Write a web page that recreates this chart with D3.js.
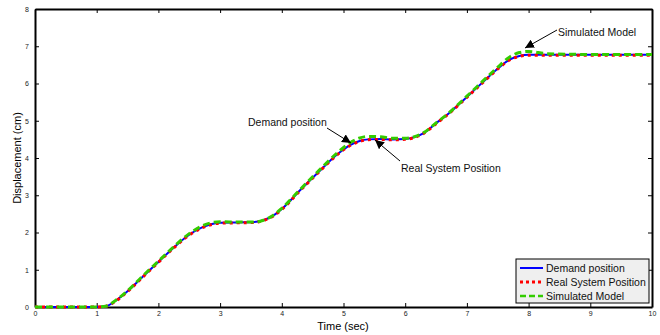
<!DOCTYPE html>
<html><head><meta charset="utf-8">
<script src="https://cdn.jsdelivr.net/npm/d3@7"></script>
<style>body{margin:0;background:#fff;}svg{display:block;font-family:"Liberation Sans",Arial,sans-serif;}</style>
</head><body>
<svg id="c" width="660" height="335"></svg>
<script>
const time =      [0, 1.0, 1.15, 1.3, 1.49, 1.75, 2.0, 2.25, 2.5, 2.7, 2.85, 3.0, 3.3, 3.55, 3.7, 3.85, 4.0, 4.3, 4.6, 4.9, 5.1, 5.25, 5.4, 5.6, 5.8, 6.0, 6.15, 6.3, 6.5, 6.7, 7.0, 7.3, 7.5, 7.7, 7.85, 8.0, 8.3, 9.0, 10];
const demand =    [0, 0, 0.02, 0.16, 0.41, 0.82, 1.21, 1.6, 1.94, 2.13, 2.22, 2.26, 2.27, 2.28, 2.33, 2.44, 2.63, 3.14, 3.63, 4.1, 4.34, 4.45, 4.5, 4.51, 4.5, 4.51, 4.56, 4.67, 4.93, 5.19, 5.64, 6.1, 6.4, 6.65, 6.74, 6.77, 6.77, 6.77, 6.77];
const realPos =   [0, 0, 0.02, 0.15, 0.40, 0.81, 1.20, 1.59, 1.93, 2.12, 2.21, 2.25, 2.26, 2.27, 2.32, 2.43, 2.62, 3.13, 3.62, 4.09, 4.33, 4.44, 4.49, 4.50, 4.49, 4.50, 4.55, 4.66, 4.92, 5.18, 5.63, 6.09, 6.39, 6.64, 6.73, 6.76, 6.76, 6.76, 6.76];
const simulated = [0, 0, 0.02, 0.17, 0.42, 0.84, 1.23, 1.62, 1.97, 2.17, 2.26, 2.29, 2.28, 2.28, 2.33, 2.45, 2.65, 3.16, 3.66, 4.14, 4.40, 4.53, 4.58, 4.57, 4.53, 4.53, 4.57, 4.68, 4.94, 5.20, 5.66, 6.13, 6.44, 6.72, 6.83, 6.86, 6.80, 6.78, 6.78];
const xTicks = [0,1,2,3,4,5,6,7,8,9,10];
const yTicks = [0,1,2,3,4,5,6,7,8];
const seriesNames = ["Demand position", "Real System Position", "Simulated Model"];

const svg = d3.select("#c");
const L=35, R=652, T=9, B=307;
const x = d3.scaleLinear().domain([0,10]).range([L,R]);
const y = d3.scaleLinear().domain([0,8]).range([B,T]);

// axes (ticks inward, box)
const fs = "7px";
const gb = svg.append("g").attr("transform",`translate(0,${B})`)
  .call(d3.axisBottom(x).tickValues(xTicks).tickSizeInner(-4).tickSizeOuter(0).tickPadding(4));
const gt = svg.append("g").attr("transform",`translate(0,${T})`)
  .call(d3.axisTop(x).tickValues(xTicks).tickSizeInner(-4).tickSizeOuter(0).tickFormat(""));
const gl = svg.append("g").attr("transform",`translate(${L},0)`)
  .call(d3.axisLeft(y).tickValues(yTicks).tickSizeInner(-4).tickSizeOuter(0).tickPadding(6));
const gr = svg.append("g").attr("transform",`translate(${R},0)`)
  .call(d3.axisRight(y).tickValues(yTicks).tickSizeInner(-4).tickSizeOuter(0).tickFormat(""));
[gb,gt,gl,gr].forEach(g=>{
  g.select(".domain").attr("stroke","#000").attr("stroke-width",2);
  g.selectAll(".tick line").attr("stroke","#000").attr("stroke-width",1);
  g.selectAll(".tick text").attr("font-size",fs).attr("fill","#222").attr("font-family","Liberation Sans, Arial, sans-serif");
});

const line = vals => d3.line().x((d,i)=>x(time[i])).y(d=>y(d)).curve(d3.curveMonotoneX)(vals);
const plot = svg.append("g");
plot.append("path").attr("d",line(demand)).attr("fill","none").attr("stroke","#0000ff").attr("stroke-width",2);
plot.append("path").attr("d",line(realPos)).attr("fill","none").attr("stroke","#ff0000").attr("stroke-width",3).attr("stroke-dasharray","3,4");
plot.append("path").attr("d",line(simulated)).attr("fill","none").attr("stroke","#33cc00").attr("stroke-width",3).attr("stroke-dasharray","7,4");

// axis labels
svg.append("text").attr("x",343).attr("y",330).attr("text-anchor","middle").attr("font-size","11px").text("Time (sec)");
svg.append("text").attr("transform","translate(21,158) rotate(-90)").attr("text-anchor","middle").attr("font-size","11px").text("Displacement (cm)");

// annotations
const defs = svg.append("defs");
defs.append("marker").attr("id","ah").attr("viewBox","0 0 10 10").attr("refX",10).attr("refY",5)
  .attr("markerWidth",9).attr("markerHeight",9).attr("markerUnits","userSpaceOnUse").attr("orient","auto")
  .append("path").attr("d","M0,0 L10,5 L0,10 z").attr("fill","#000");
const ann = [
  {text:"Demand position", tx:248, ty:125.5, x1:327, y1:128, x2:351, y2:143},
  {text:"Real System Position", tx:401, ty:172, x1:400, y1:161, x2:375, y2:140},
  {text:"Simulated Model", tx:558, ty:36, x1:557, y1:30, x2:525, y2:48}
];
ann.forEach(a=>{
  svg.append("text").attr("x",a.tx).attr("y",a.ty).attr("font-size","10.5px").attr("fill","#111").text(a.text);
  svg.append("line").attr("x1",a.x1).attr("y1",a.y1).attr("x2",a.x2).attr("y2",a.y2)
    .attr("stroke","#000").attr("stroke-width",1).attr("marker-end","url(#ah)");
});

// legend
const lg = svg.append("g");
lg.append("rect").attr("x",516).attr("y",259).attr("width",133).attr("height",44).attr("fill","#efefef").attr("stroke","#000").attr("stroke-width",1);
const styles = [
  {c:"#0000ff",w:2,d:null},
  {c:"#ff0000",w:3,d:"3,3"},
  {c:"#33cc00",w:2.5,d:"6,3"}
];
seriesNames.forEach((n,i)=>{
  const yy = 268 + i*14;
  lg.append("line").attr("x1",520).attr("x2",543).attr("y1",yy).attr("y2",yy)
    .attr("stroke",styles[i].c).attr("stroke-width",styles[i].w).attr("stroke-dasharray",styles[i].d);
  lg.append("text").attr("x",546).attr("y",yy+4).attr("font-size","10.5px").attr("fill","#111").text(n);
});
</script>
</body></html>
